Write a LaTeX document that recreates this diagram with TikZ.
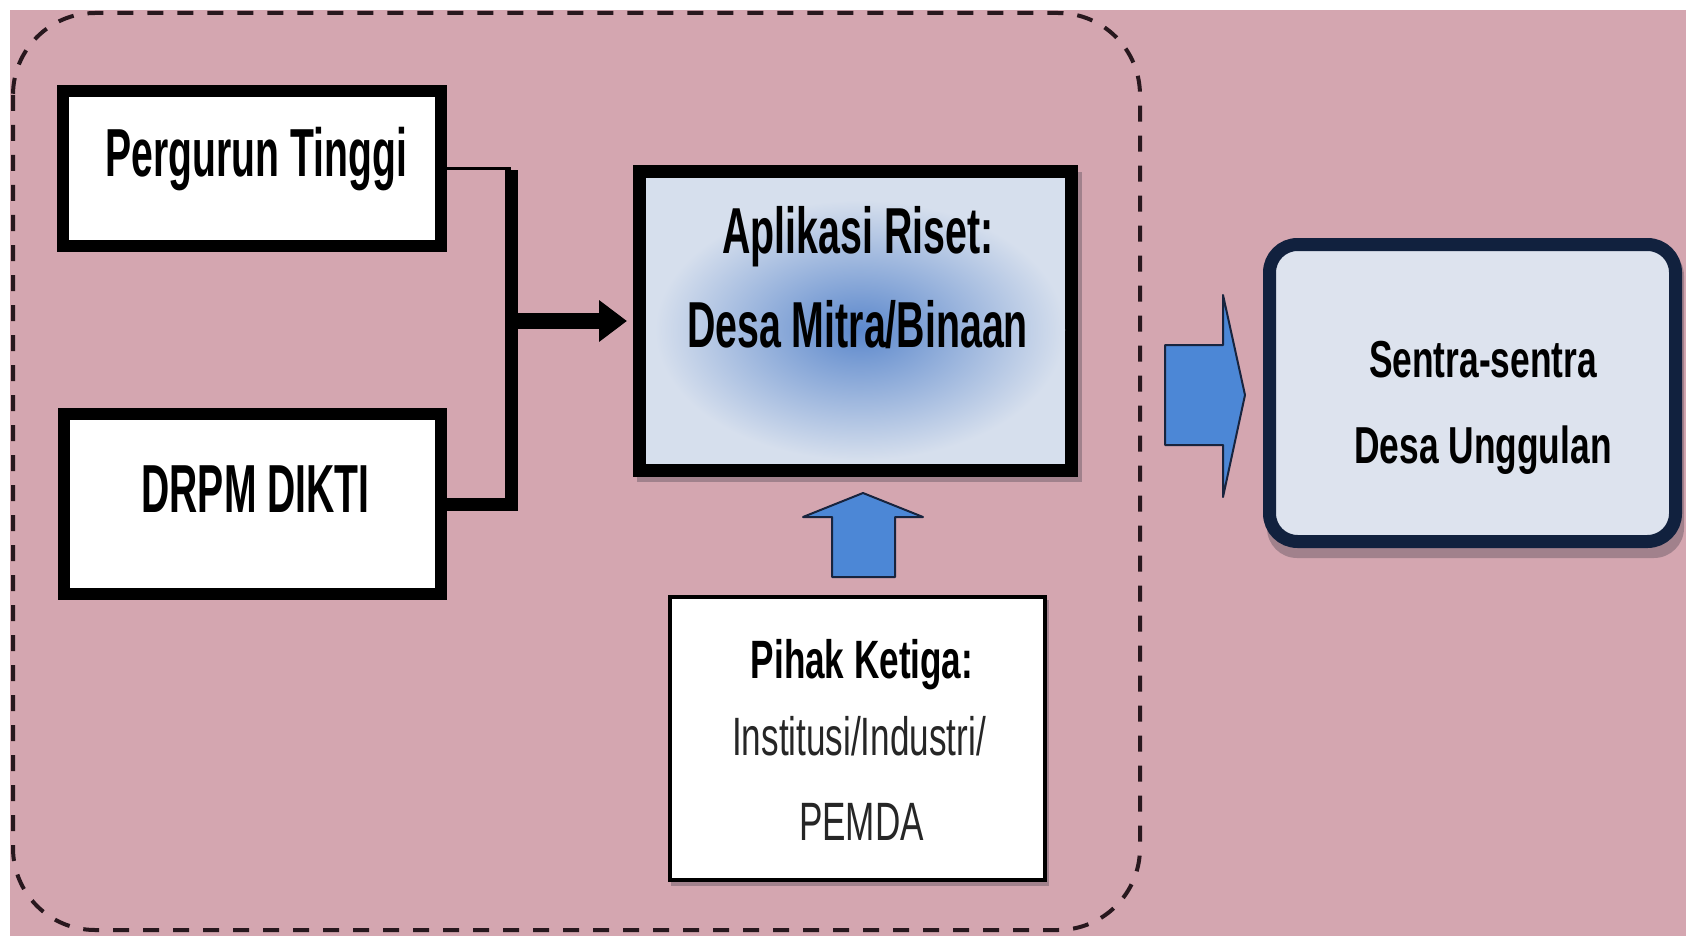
\documentclass[tikz,border=0pt]{standalone}
\usepackage{fontspec}
\setmainfont{Liberation Sans}
\usepackage{graphicx}
\usetikzlibrary{arrows.meta}
\definecolor{bgpink}{RGB}{212,166,176}
\definecolor{dashcol}{RGB}{40,24,30}
\definecolor{apfill}{RGB}{214,223,237}
\definecolor{apblue}{RGB}{92,136,204}
\definecolor{sefill}{RGB}{221,227,238}
\definecolor{navy}{RGB}{17,33,62}
\definecolor{arrblue}{RGB}{76,135,214}
\definecolor{arrdark}{RGB}{24,36,62}
\definecolor{shadowcol}{RGB}{120,100,112}
\newcommand{\mytxt}[3]{\scalebox{#1}[1]{\fontsize{#2pt}{#2pt}\selectfont #3}}
\begin{document}
\begin{tikzpicture}[x=1pt,y=-1pt,
  thickbox/.style={draw=black, line width=12pt, fill=white, inner sep=0pt, line join=miter},
  lbl/.style={anchor=base, inner sep=0pt, text=black},
  blockarrow/.style={fill=arrblue, draw=arrdark, line width=2pt, line join=round},
  dashframe/.style={draw=dashcol, line width=4pt, dash pattern=on 16pt off 14pt, rounded corners=82pt},
  shadowbox/.style={fill=shadowcol, opacity=0.55},
  connector/.style={draw=black, line width=#1}
]
\useasboundingbox (0,0) rectangle (1686,936);
\fill[white] (0,0) rectangle (1686,936);
\fill[bgpink] (10,10) rectangle (1686,936);
\draw[dashframe] (13,13) rectangle (1140,930);

% shadows
\fill[shadowbox] (637,172) rectangle (1082,482);
\fill[shadowbox] (671,600) rectangle (1049,886);
\fill[shadowbox, rounded corners=30pt] (1267,246) rectangle (1684,558);

% boxes
\node[thickbox, minimum width=378pt, minimum height=155pt] (pt) at (252,168.5) {};
\node[thickbox, minimum width=377pt, minimum height=180pt] (dr) at (252.5,504) {};
\node[thickbox, fill=apfill, line width=13pt, minimum width=432pt, minimum height=299pt] (ap) at (855.5,321) {};
\shade[inner color=apblue, outer color=apfill] (860,330) ellipse [x radius=205pt, y radius=130pt];
\node[draw=black, line width=4pt, fill=white, inner sep=0pt, minimum width=375pt, minimum height=283pt] (pk) at (857.5,738.5) {};
\node[draw=navy, line width=13pt, fill=sefill, rounded corners=28pt, inner sep=0pt, minimum width=406pt, minimum height=297pt] (se) at (1472.5,393) {};

% connectors
\coordinate (jt) at (511,168.5);
\coordinate (jb) at (511,504);
\coordinate (jn) at (511,321);
\draw[connector=3pt] (pt.east) -- (jt);
\draw[connector=13pt, line join=miter] (dr.east) -- (jb) -- ([yshift=-1.5pt]jt);
\draw[connector=16pt, shorten >=6pt, -{Triangle[length=28pt,width=40pt]}] (jn) -- (ap.west);

% block arrows
\draw[blockarrow] (832,577) -- (832,517) -- (803,517) -- (863,493) -- (923,517) -- (895,517) -- (895,577) -- cycle;
\draw[blockarrow] (1165,345) -- (1223,345) -- (1223,295) -- (1245,395) -- (1223,497) -- (1223,445) -- (1165,445) -- cycle;

% texts
\node[lbl] (t1) at (256.5,177) {\mytxt{0.575}{68}{\bfseries Pergurun Tinggi}};
\node[lbl] (t2) at (255.5,512) {\mytxt{0.575}{68}{\bfseries DRPM DIKTI}};
\node[lbl] (t3) at (858,253) {\mytxt{0.605}{65}{\bfseries Aplikasi Riset:}};
\node[lbl] (t4) at (857.5,347) {\mytxt{0.605}{65}{\bfseries Desa Mitra/Binaan}};
\node[lbl] (t5) at (862,678) {\mytxt{0.65}{54}{\bfseries Pihak Ketiga:}};
\node[lbl, text=black!85] (t6) at (859,755) {\mytxt{0.65}{54}{Institusi/Industri/}};
\node[lbl, text=black!85] (t7) at (861.5,840) {\mytxt{0.65}{54}{PEMDA}};
\node[lbl] (t8) at (1483,377) {\mytxt{0.68}{52}{\bfseries Sentra-sentra}};
\node[lbl] (t9) at (1483,463) {\mytxt{0.68}{52}{\bfseries Desa Unggulan}};
\end{tikzpicture}
\end{document}
